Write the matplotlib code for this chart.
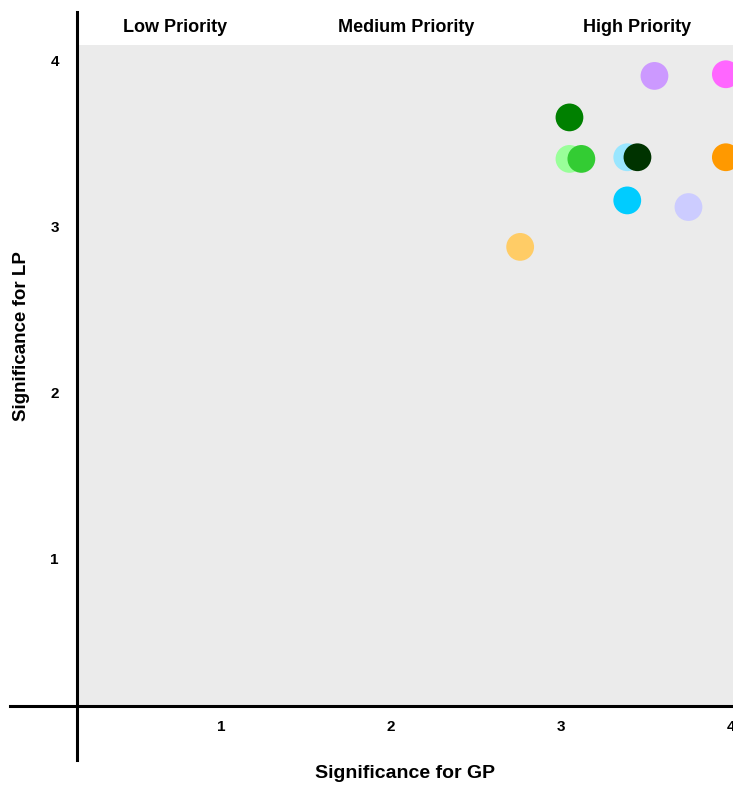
import matplotlib
matplotlib.use("Agg")
import matplotlib.pyplot as plt
from matplotlib.patches import Rectangle

plt.rcParams['font.family'] = ['Liberation Sans', 'DejaVu Sans']

gp = [3.55, 3.97, 3.05, 3.05, 3.12, 3.39, 3.45, 3.97, 3.39, 3.75, 2.76]
lp = [3.91, 3.92, 3.66, 3.41, 3.41, 3.42, 3.42, 3.42, 3.16, 3.12, 2.88]
colors = ['#CC99FF', '#FF66FF', '#008000', '#99FF99', '#33CC33', '#99E6FF',
          '#003300', '#FF9900', '#00CCFF', '#CCCCFF', '#FFCC66']
ticks = [1, 2, 3, 4]
priority_labels = ['Low Priority', 'Medium Priority', 'High Priority']
priority_x = [0.73, 2.09, 3.45]

W, H = 733, 785
fig = plt.figure(figsize=(W / 100, H / 100), dpi=100)
ax = fig.add_axes([10 / W, 25 / H, 723 / W, 748 / H])
ax.set_xlim(-0.241, 4.012)
ax.set_ylim(-0.211, 4.295)
ax.set_facecolor('none')

x0, y0 = 0.153, 0.114
ax.add_patch(Rectangle((x0, y0), 4.2 - x0, 4.096 - y0, facecolor='#EBEBEB',
                       edgecolor='none', zorder=0))

ax.scatter(gp, lp, s=400, c=colors, edgecolors='none', zorder=3)

for s in ['top', 'right']:
    ax.spines[s].set_visible(False)
ax.spines['left'].set_position(('data', x0))
ax.spines['bottom'].set_position(('data', y0))
for s in ['left', 'bottom']:
    ax.spines[s].set_linewidth(2.2)
    ax.spines[s].set_zorder(4)

ax.set_xticks(ticks)
ax.set_yticks(ticks)
ax.set_xticklabels([str(t) for t in ticks], fontweight='bold', fontsize=11)
ax.set_yticklabels([str(t) for t in ticks], fontweight='bold', fontsize=11)
ax.tick_params(axis='x', length=0, pad=10)
ax.tick_params(axis='y', length=0, pad=13)

for lab, xp in zip(priority_labels, priority_x):
    ax.text(xp, 4.2, lab, ha='center', va='center', fontsize=13, fontweight='bold')

fig.text(405 / W, 1 - 773 / H, 'Significance for GP', ha='center', va='center',
         fontsize=14, fontweight='bold')
fig.text(22 / W, 1 - 336 / H, 'Significance for LP', ha='center', va='center',
         fontsize=13.5, fontweight='bold', rotation=90)

fig.savefig('out.png', dpi=100)
